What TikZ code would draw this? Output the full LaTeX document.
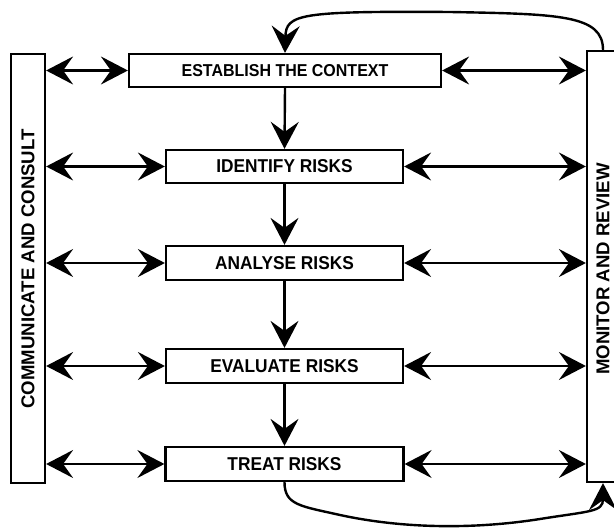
\documentclass[tikz,border=0pt]{standalone}
\usepackage{fontspec}
\setmainfont{Liberation Sans}
\newfontfamily\boxfont{Liberation Sans}[FakeStretch=0.93]
\usetikzlibrary{arrows.meta}
\tikzset{
  tipstyle/.tip={Stealth[length=27pt,width=28pt,inset=10pt]},
  stagebox/.style={draw, line width=2.2pt, inner sep=0pt, font=\boxfont\bfseries\fontsize{18.6}{20}\selectfont},
  sidebox/.style={draw, line width=2.2pt, inner sep=0pt},
  sidelabel/.style={rotate=90, inner sep=0pt, font=\bfseries\fontsize{18.6}{20}\selectfont},
  arr/.style={line width=2.4pt, -tipstyle},
  dbl/.style={line width=2.4pt, tipstyle-tipstyle}
}
\begin{document}
\begin{tikzpicture}[x=1pt,y=-1pt]
\useasboundingbox (0,0) rectangle (614,529);
% side boxes
\node[sidebox, minimum width=34pt, minimum height=429pt] (comm) at (28,268.5) {};
\node[sidelabel] (commtxt) at (28,269) {COMMUNICATE AND CONSULT};
\node[sidebox, minimum width=34pt, minimum height=431pt] (mon) at (604,266.5) {};
\node[sidelabel] (montxt) at (603,269) {MONITOR AND REVIEW};
% stages
\node[stagebox, minimum width=312pt, minimum height=33pt, font=\boxfont\bfseries\fontsize{17.2}{20}\selectfont] (est) at (285,70.5) {ESTABLISH THE CONTEXT};
\node[stagebox, minimum width=237pt, minimum height=33pt] (id) at (284.5,166.5) {IDENTIFY RISKS};
\node[stagebox, minimum width=237pt, minimum height=34pt] (an) at (284.5,263) {ANALYSE RISKS};
\node[stagebox, minimum width=237pt, minimum height=34pt] (ev) at (284.5,366) {EVALUATE RISKS};
\node[stagebox, minimum width=238pt, minimum height=34pt] (tr) at (284.5,464) {TREAT RISKS};
% vertical flow
\draw[arr] (est.south) -- (id.north);
\draw[arr] (id.south) -- (an.north);
\draw[arr] (an.south) -- (ev.north);
\draw[arr] (ev.south) -- (tr.north);
% side connectors
\foreach \n in {est,id,an,ev,tr}{
  \draw[dbl] (comm.east |- \n.west) -- (\n.west);
  \draw[dbl] (\n.east) -- (mon.west |- \n.east);
}
% feedback loops
\draw[arr] ([xshift=-1pt]mon.north) .. controls (603,15) and (560,14) .. (450,12)
   .. controls (300,11) and (286,14) .. (est.north);
\draw[arr] (tr.south) .. controls (284.5,505) and (300,506) .. (340,515)
   .. controls (400,528) and (470,530) .. (540,519)
   .. controls (590,511) and (603,512) .. ([xshift=-1pt]mon.south);
\end{tikzpicture}
\end{document}
